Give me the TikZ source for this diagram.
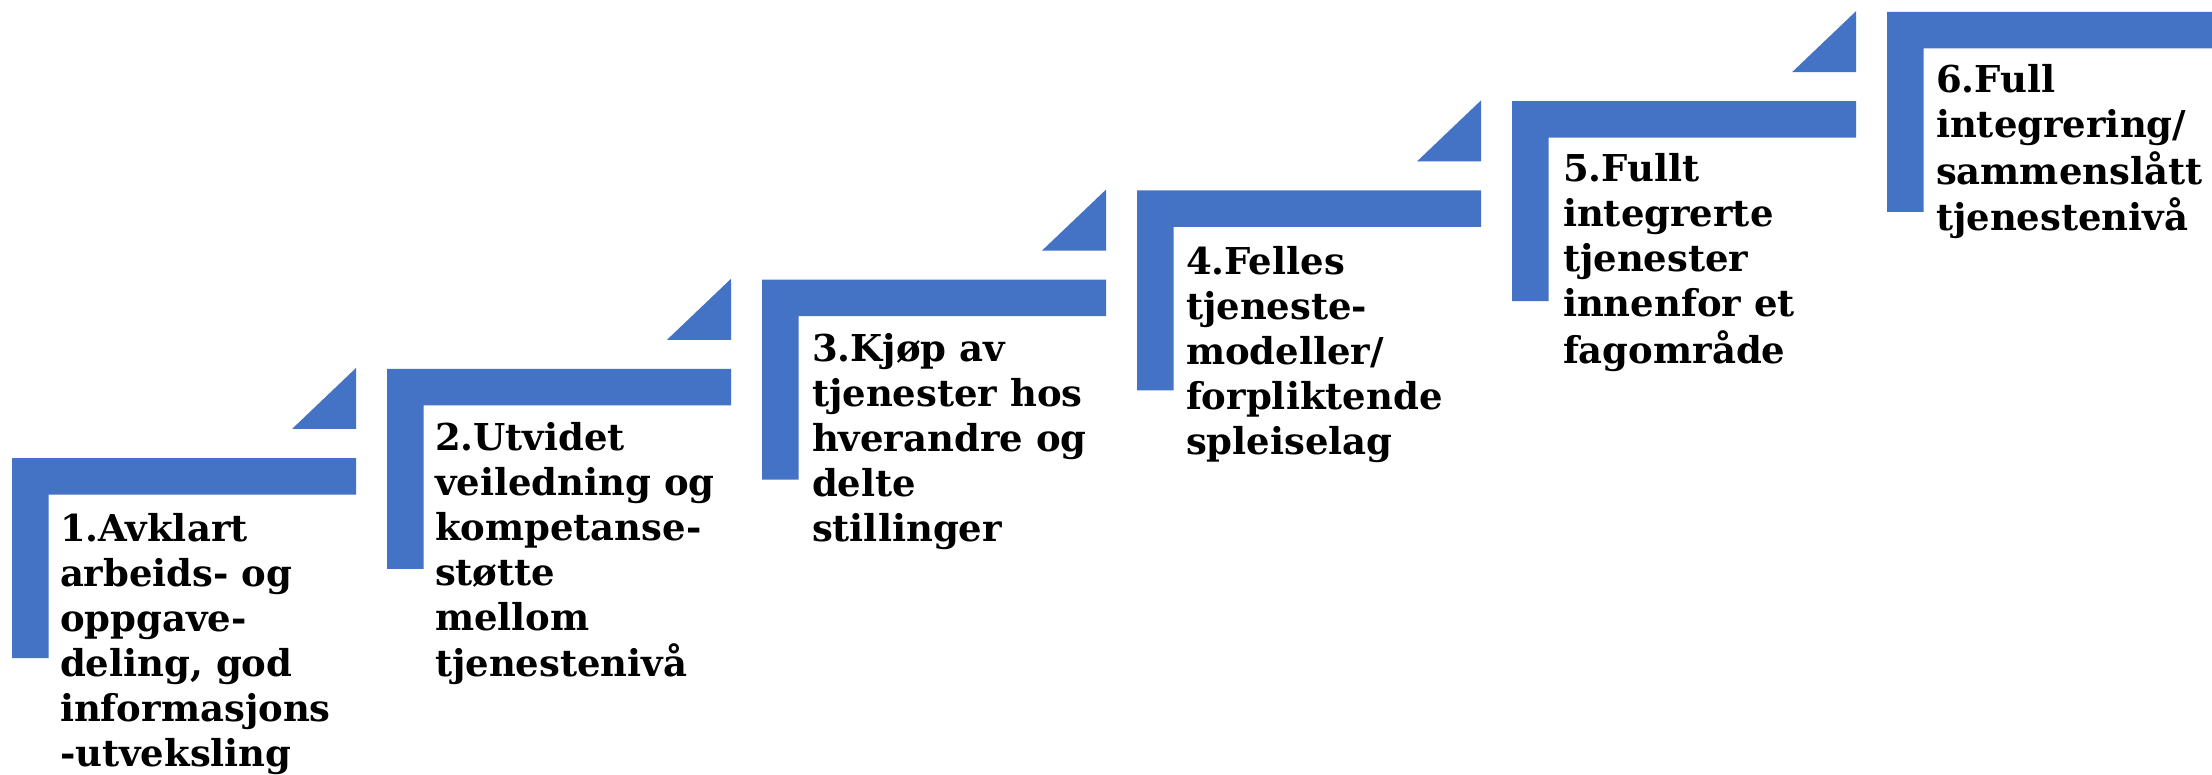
\documentclass[tikz,border=0pt]{standalone}
\usepackage{fontspec}
\setmainfont{DejaVu Serif}
\definecolor{stepblue}{HTML}{4472C4}
\tikzset{
  stepbar/.style={fill=stepblue, draw=none},
  steplabel/.style={anchor=base west, inner sep=0pt, outer sep=0pt, text=black,
    font=\bfseries\fontsize{37}{45}\selectfont}
}
\newcommand{\stairstep}[2]{%
  % #1 = left x, #2 = top y (pixel coordinates, y downward)
  \fill[stepbar] (#1,#2) -- ++(344,0) -- ++(0,36.5) -- ++(-307.5,0) -- ++(0,163.5) -- ++(-36.5,0) -- cycle;
}
\newcommand{\stairwedge}[2]{%
  \fill[stepbar] (#1+344,#2-90) -- (#1+344,#2-29) -- (#1+280,#2-29) -- cycle;
}
\begin{document}
\begin{tikzpicture}[x=1pt,y=-1pt]
\useasboundingbox (0,0) rectangle (2212,775);
\clip (0,0) rectangle (2212,775);
\fill[white] (0,0) rectangle (2212,775);
% stairs
\stairstep{12}{458}
\stairwedge{12}{458}
\stairstep{387}{368.8}
\stairwedge{387}{368.8}
\stairstep{762}{279.6}
\stairwedge{762}{279.6}
\stairstep{1137}{190.4}
\stairwedge{1137}{190.4}
\stairstep{1512}{101.2}
\stairwedge{1512}{101.2}
\stairstep{1887}{12}
% labels
\node[steplabel] (s1) at (60,541) {\begin{tabular}[t]{@{}l@{}}1.Avklart\\arbeids- og\\oppgave-\\deling, god\\informasjons\\-utveksling\end{tabular}};
\node[steplabel] (s2) at (435,450) {\begin{tabular}[t]{@{}l@{}}2.Utvidet\\veiledning og\\kompetanse-\\støtte\\mellom\\tjenestenivå\end{tabular}};
\node[steplabel] (s3) at (812,362) {\begin{tabular}[t]{@{}l@{}}3.Kjøp av\\tjenester hos\\hverandre og\\delte\\stillinger\end{tabular}};
\node[steplabel] (s4) at (1186,275) {\begin{tabular}[t]{@{}l@{}}4.Felles\\tjeneste-\\modeller/\\forpliktende\\spleiselag\end{tabular}};
\node[steplabel] (s5) at (1563,182) {\begin{tabular}[t]{@{}l@{}}5.Fullt\\integrerte\\tjenester\\innenfor et\\fagområde\end{tabular}};
\node[steplabel] (s6) at (1936,93) {\begin{tabular}[t]{@{}l@{}}6.Full\\integrering/\\sammenslått\\tjenestenivå\end{tabular}};
\end{tikzpicture}
\end{document}
